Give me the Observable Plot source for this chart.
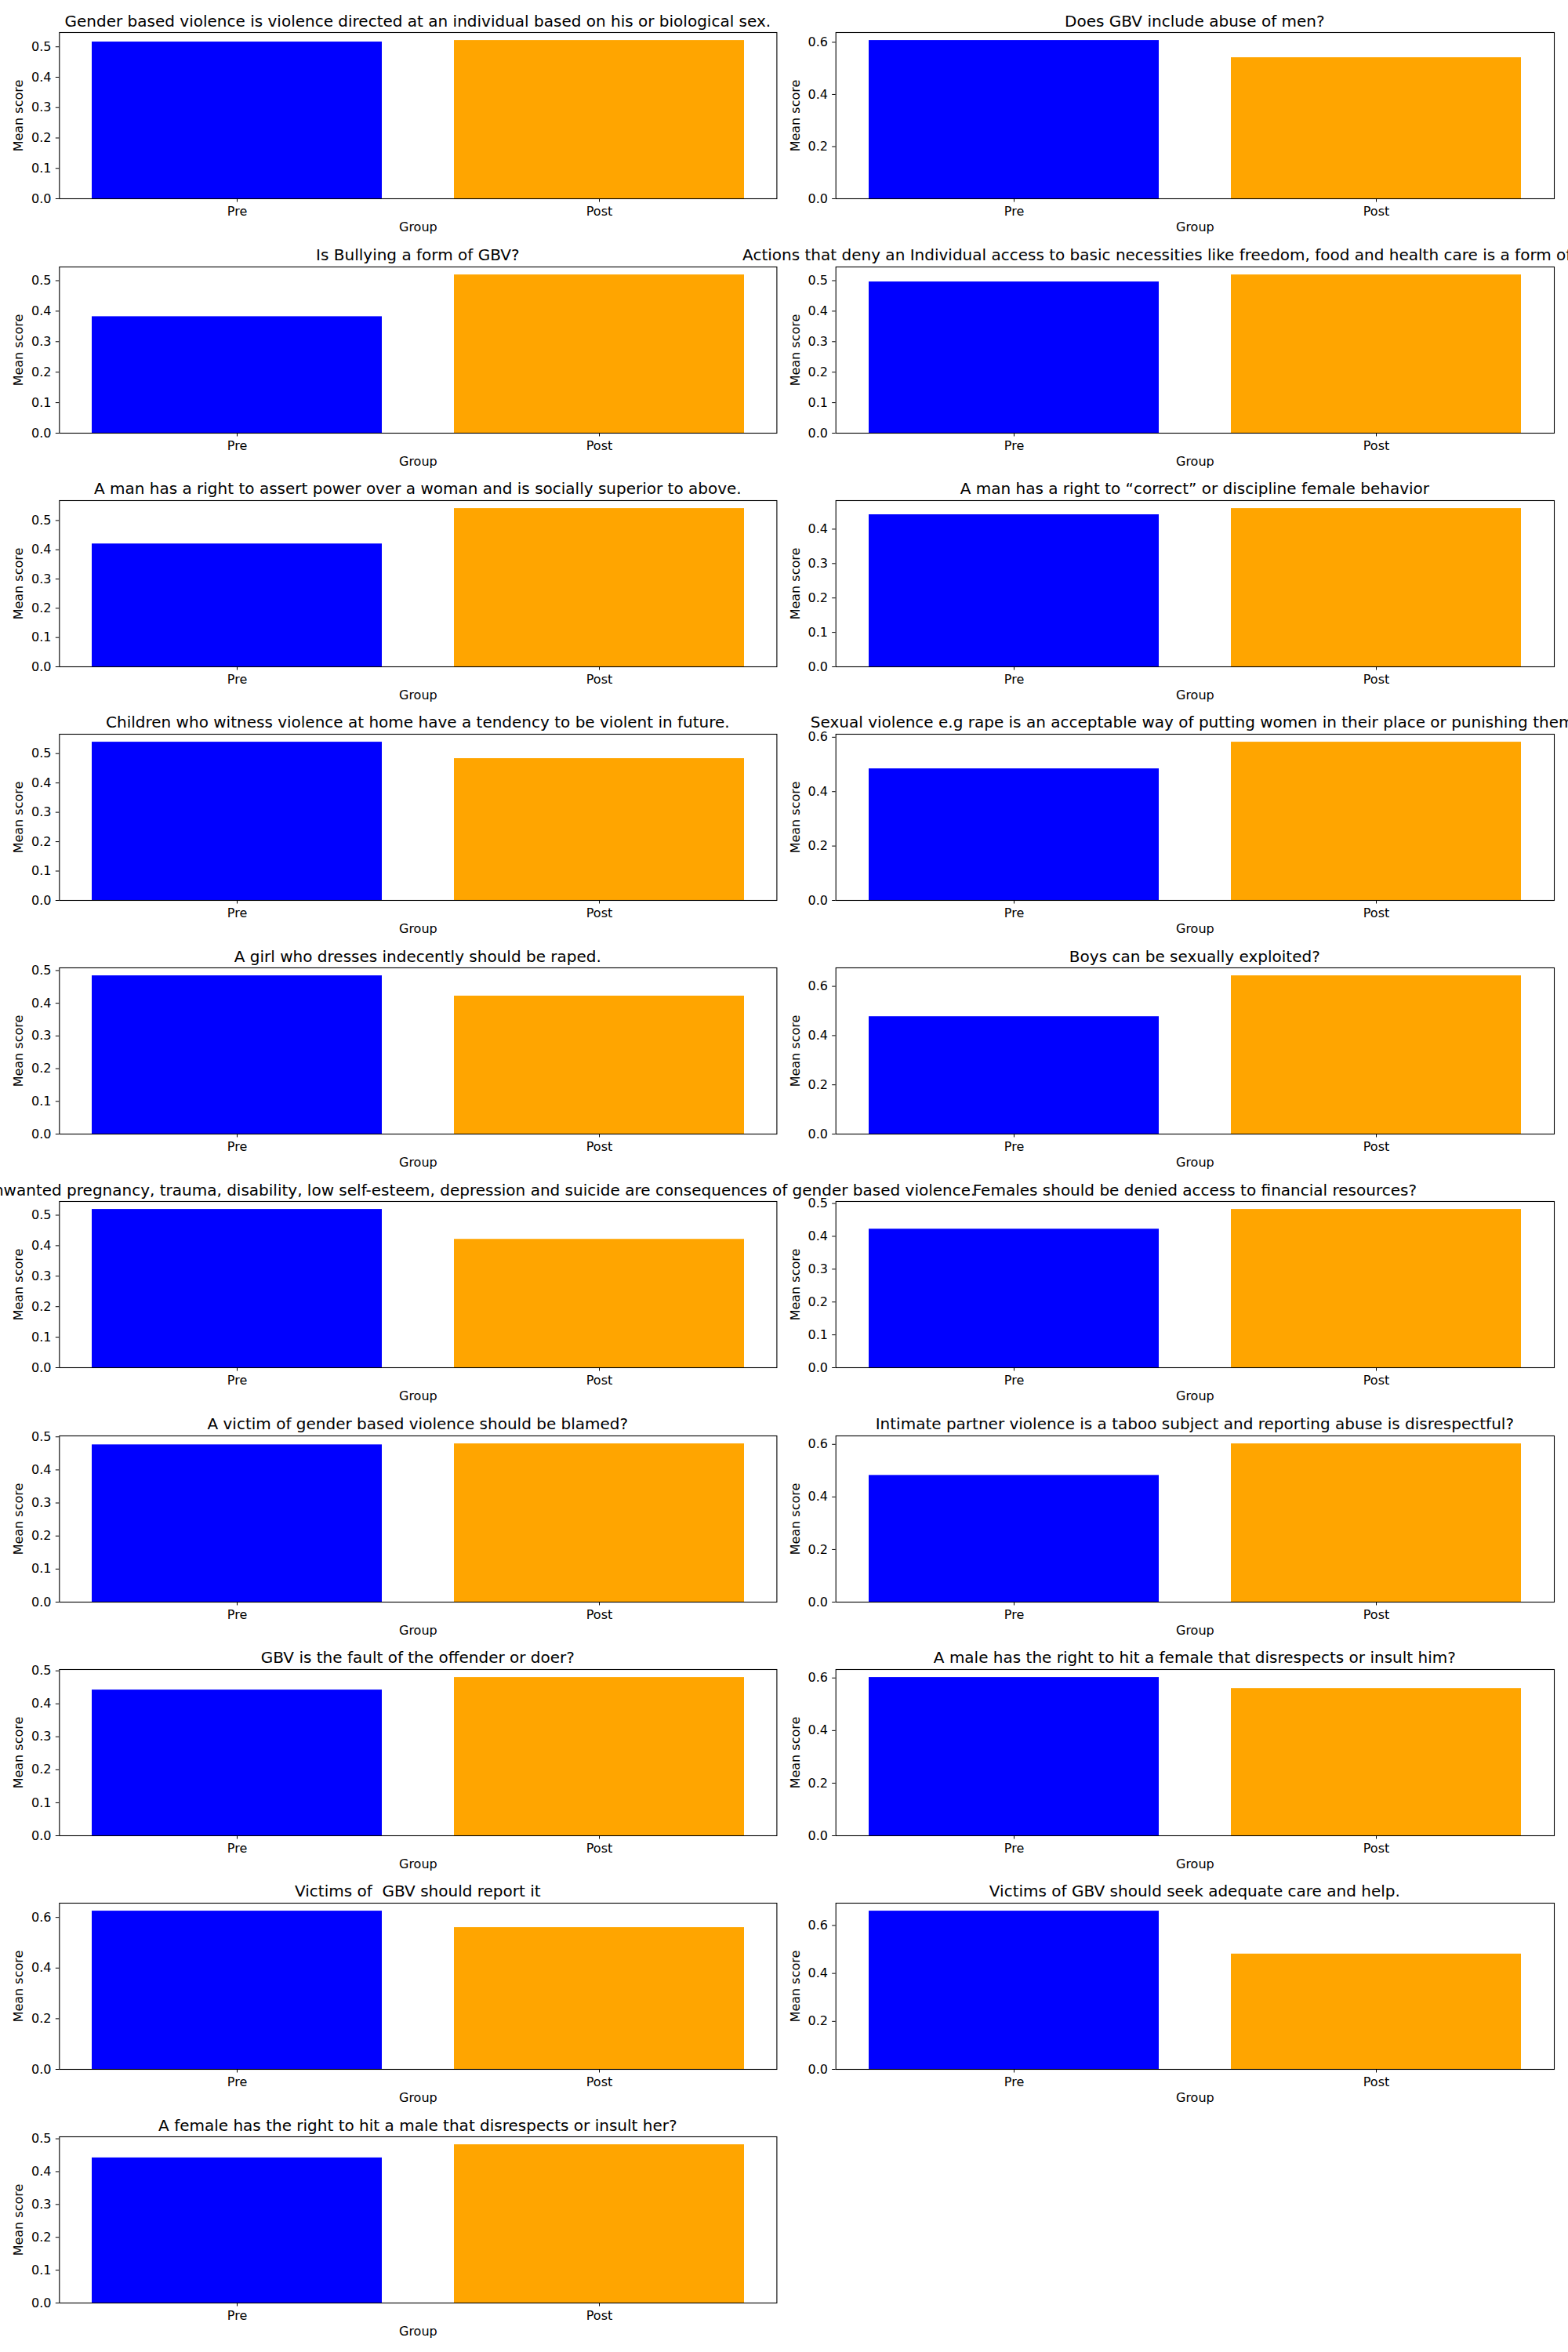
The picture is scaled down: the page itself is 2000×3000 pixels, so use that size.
<!DOCTYPE html>
<html>
<head>
<meta charset="utf-8">
<script src="https://cdn.jsdelivr.net/npm/d3@7"></script>
<script src="https://cdn.jsdelivr.net/npm/@observablehq/plot@0.6"></script>
<style>
  html, body { margin: 0; padding: 0; background: #fff; }
  #root { position: relative; width: 2000px; height: 3000px; overflow: hidden; background: #fff; font-family: "DejaVu Sans", sans-serif; }
  .panel { position: absolute; }
  .title { position: absolute; white-space: pre; font-size: 20px; line-height: 20px; color: #000; transform: translateX(-50%); font-family: "DejaVu Sans", sans-serif; }
</style>
</head>
<body>
<div id="root"></div>
<script>
// ---------- data ----------
const questions = [
  "Gender based violence is violence directed at an individual based on his or biological sex.",
  "Does GBV include abuse of men?",
  "Is Bullying a form of GBV?",
  "Actions that deny an Individual access to basic necessities like freedom, food and health care is a form of violence.",
  "A man has a right to assert power over a woman and is socially superior to above.",
  "A man has a right to \u201ccorrect\u201d or discipline female behavior",
  "Children who witness violence at home have a tendency to be violent in future.",
  "Sexual violence e.g rape is an acceptable way of putting women in their place or punishing them.",
  "A girl who dresses indecently should be raped.",
  "Boys can be sexually exploited?",
  "Unwanted pregnancy, trauma, disability, low self-esteem, depression and suicide are consequences of gender based violence.",
  "Females should be denied access to financial resources?",
  "A victim of gender based violence should be blamed?",
  "Intimate partner violence is a taboo subject and reporting abuse is disrespectful?",
  "GBV is the fault of the offender or doer?",
  "A male has the right to hit a female that disrespects or insult him?",
  "Victims of  GBV should report it",
  "Victims of GBV should seek adequate care and help.",
  "A female has the right to hit a male that disrespects or insult her?"
];
const groups = ["Pre", "Post"];
const preScores  = [0.516, 0.607, 0.382, 0.496, 0.420, 0.442, 0.539, 0.484, 0.484, 0.477, 0.519, 0.422, 0.476, 0.482, 0.442, 0.602, 0.625, 0.660, 0.442];
const postScores = [0.521, 0.541, 0.519, 0.519, 0.541, 0.460, 0.483, 0.582, 0.422, 0.643, 0.421, 0.482, 0.479, 0.602, 0.480, 0.560, 0.560, 0.481, 0.482];
const yTickSteps = [0.1, 0.2, 0.1, 0.1, 0.1, 0.1, 0.1, 0.2, 0.1, 0.2, 0.1, 0.1, 0.1, 0.2, 0.1, 0.2, 0.2, 0.2, 0.1];
const xLabel = "Group";
const yLabel = "Mean score";

// ---------- styles / layout ----------
const barColors = ["blue", "orange"];
const layout = {
  colLeft: [0, 1000],
  marginLeft: [75.3, 65.7],
  marginRight: [9.6, 18],
  firstAxesTop: 41.3,
  rowPitch: 298.2,
  axesHeight: 212,
  padTop: 10,
  padBottom: 50,
  titleOffset: 24.5,
  titleShift: {10: 78}
};

const root = document.getElementById("root");

questions.forEach((q, i) => {
  const col = i % 2, row = Math.floor(i / 2);
  const axesTop = layout.firstAxesTop + row * layout.rowPitch;
  const ml = layout.marginLeft[col], mr = layout.marginRight[col];
  const width = 1000;
  const height = layout.padTop + layout.axesHeight + layout.padBottom;
  const data = groups.map((g, k) => ({group: g, score: k === 0 ? preScores[i] : postScores[i]}));
  const ymax = 1.05 * d3.max(data, d => d.score);
  const step = yTickSteps[i];
  const nT = Math.floor(ymax / step + 1e-9);
  const ticks = d3.range(0, nT + 1).map(k => +(k * step).toFixed(3));

  const chart = Plot.plot({
    width, height,
    marginTop: layout.padTop, marginBottom: layout.padBottom,
    marginLeft: ml, marginRight: mr,
    style: {fontFamily: "DejaVu Sans", fontSize: "16px", background: "transparent", overflow: "visible", color: "black"},
    x: {type: "band", domain: groups, paddingInner: 0.2, paddingOuter: 0.09, label: null, tickSize: 4.5, tickPadding: 5.8},
    y: {domain: [0, ymax], ticks, tickFormat: d3.format(".1f"), label: null, tickSize: 4.5, tickPadding: 5.8},
    color: {domain: groups, range: barColors},
    marks: [
      Plot.barY(data, {x: "group", y: "score", fill: "group"}),
      Plot.frame({stroke: "black", strokeWidth: 1.1}),
      Plot.text([xLabel], {text: d => d, frameAnchor: "bottom", textAnchor: "middle", lineAnchor: "middle", dy: 36.6, fontSize: 16, fill: "black"}),
      Plot.text([yLabel], {text: d => d, frameAnchor: "left", textAnchor: "middle", lineAnchor: "middle", dx: -51.7, rotate: -90, fontSize: 16, fill: "black"})
    ]
  });
  const wrap = document.createElement("div");
  wrap.className = "panel";
  wrap.style.left = layout.colLeft[col] + "px";
  wrap.style.top = (axesTop - layout.padTop) + "px";
  wrap.appendChild(chart);
  root.appendChild(wrap);

  const t = document.createElement("div");
  t.className = "title";
  t.textContent = q;
  const axesCenter = layout.colLeft[col] + ml + (width - ml - mr) / 2 + (layout.titleShift[i] || 0);
  t.style.left = axesCenter + "px";
  t.style.top = (axesTop - layout.titleOffset) + "px";
  root.appendChild(t);
});
</script>
</body>
</html>
